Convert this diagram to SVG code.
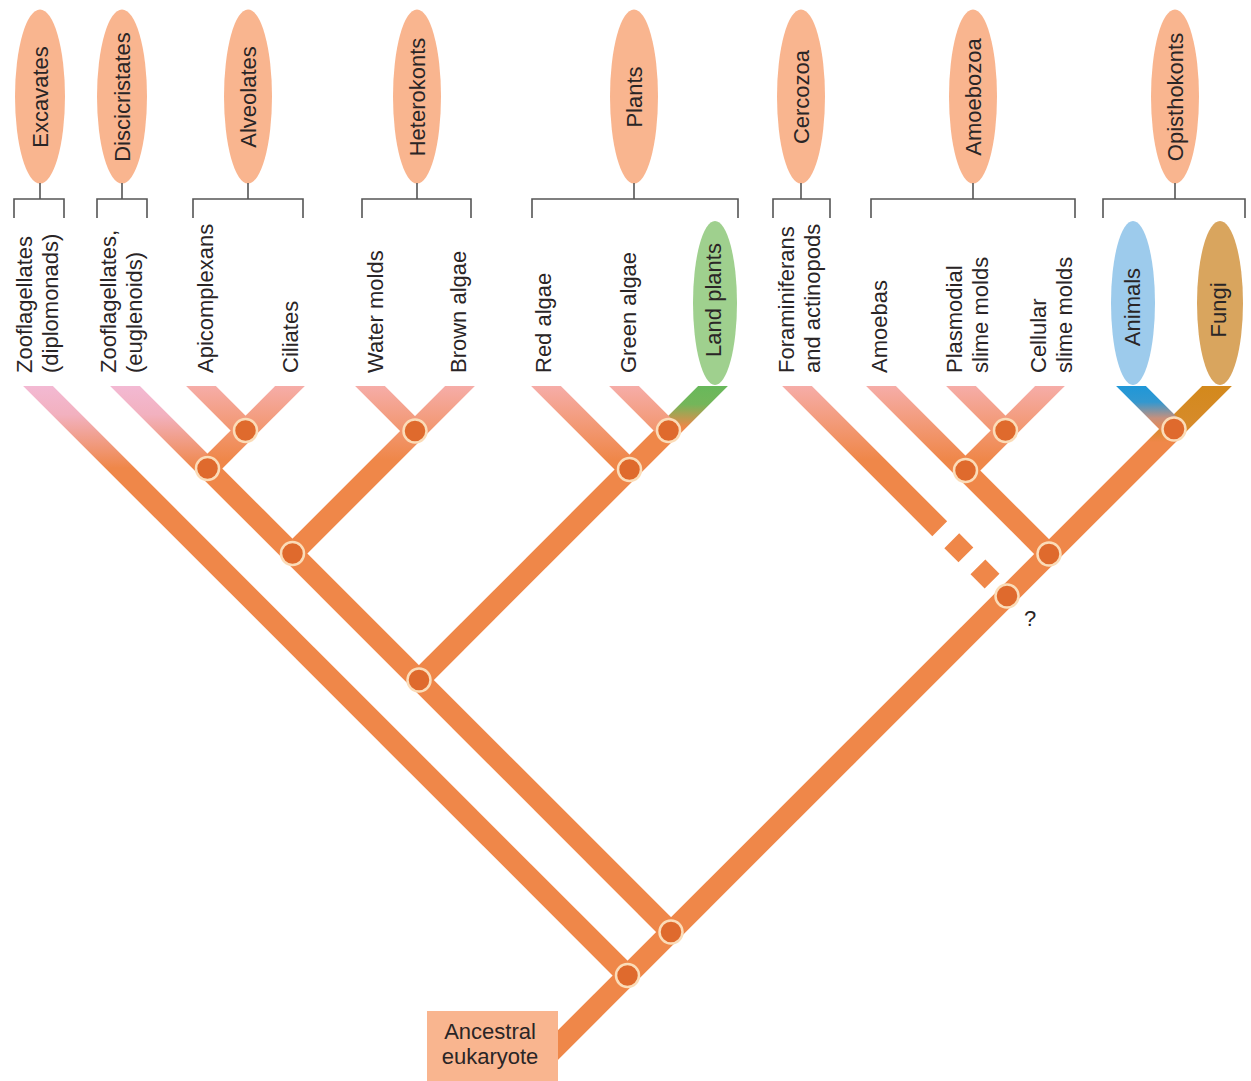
<svg xmlns="http://www.w3.org/2000/svg" width="1251" height="1081" viewBox="0 0 1251 1081">
<style>
.grp{fill:#f9b58f}
.lbl{font-family:"Liberation Sans",Arial,sans-serif;font-size:22px;fill:#2a2526}
.brk{fill:none;stroke:#555;stroke-width:1.6}
.br{fill:none;stroke-width:21;stroke-linecap:butt}
.nd{fill:#df6a2d;stroke:#fbdcb8;stroke-width:2.5}
</style>
<defs>
<clipPath id="tipclip"><rect x="0" y="386" width="1251" height="695"/></clipPath>
<linearGradient id="gLilac" gradientUnits="userSpaceOnUse" x1="0" y1="386" x2="0" y2="468">
<stop offset="0" stop-color="#f3b9d3"/><stop offset="0.35" stop-color="#f2b1bf"/><stop offset="1" stop-color="#ef8749"/>
</linearGradient>
<linearGradient id="gSalmon" gradientUnits="userSpaceOnUse" x1="0" y1="386" x2="0" y2="460">
<stop offset="0" stop-color="#f6ada8"/><stop offset="1" stop-color="#ef8749"/>
</linearGradient>
<linearGradient id="gGreen" gradientUnits="userSpaceOnUse" x1="0" y1="386" x2="0" y2="432">
<stop offset="0" stop-color="#68b85b"/><stop offset="0.4" stop-color="#74b65a"/><stop offset="0.9" stop-color="#ef8749"/>
</linearGradient>
<linearGradient id="gBlue" gradientUnits="userSpaceOnUse" x1="0" y1="386" x2="0" y2="432">
<stop offset="0" stop-color="#1f97d8"/><stop offset="0.35" stop-color="#3398d0"/><stop offset="0.7" stop-color="#c7907c"/><stop offset="1" stop-color="#ef8749"/>
</linearGradient>
<linearGradient id="gFungi" gradientUnits="userSpaceOnUse" x1="0" y1="386" x2="0" y2="442">
<stop offset="0" stop-color="#d3891c"/><stop offset="0.75" stop-color="#d78b2c"/><stop offset="1" stop-color="#ef8749"/>
</linearGradient>
</defs>
<rect width="1251" height="1081" fill="#fff"/>

<!-- group ellipses -->
<g id="excavates"><ellipse class="grp" cx="40" cy="96.5" rx="25" ry="87"/><text class="lbl" transform="translate(48,97) rotate(-90)" text-anchor="middle">Excavates</text><path class="brk" d="M40,183V199M14,218V199H64V218"/></g>
<g id="discicristates"><ellipse class="grp" cx="122" cy="96.5" rx="25" ry="87"/><text class="lbl" transform="translate(130,97) rotate(-90)" text-anchor="middle">Discicristates</text><path class="brk" d="M122,183V199M97,218V199H147V218"/></g>
<g id="alveolates"><ellipse class="grp" cx="248" cy="96.5" rx="24" ry="87"/><text class="lbl" transform="translate(256,97) rotate(-90)" text-anchor="middle">Alveolates</text><path class="brk" d="M248,183V199M193,218V199H303V218"/></g>
<g id="heterokonts"><ellipse class="grp" cx="417" cy="96.5" rx="24" ry="87"/><text class="lbl" transform="translate(425,97) rotate(-90)" text-anchor="middle">Heterokonts</text><path class="brk" d="M417,183V199M362,218V199H471V218"/></g>
<g id="plants"><ellipse class="grp" cx="634" cy="96.5" rx="24" ry="87"/><text class="lbl" transform="translate(642,97) rotate(-90)" text-anchor="middle">Plants</text><path class="brk" d="M634,183V199M532,218V199H738V218"/></g>
<g id="cercozoa"><ellipse class="grp" cx="801" cy="96.5" rx="24" ry="87"/><text class="lbl" transform="translate(809,97) rotate(-90)" text-anchor="middle">Cercozoa</text><path class="brk" d="M801,183V199M773,218V199H830V218"/></g>
<g id="amoebozoa"><ellipse class="grp" cx="973" cy="96.5" rx="24" ry="87"/><text class="lbl" transform="translate(981,97) rotate(-90)" text-anchor="middle">Amoebozoa</text><path class="brk" d="M973,183V199M871,218V199H1075V218"/></g>
<g id="opisthokonts"><ellipse class="grp" cx="1175" cy="96.5" rx="24" ry="87"/><text class="lbl" transform="translate(1183,97) rotate(-90)" text-anchor="middle">Opisthokonts</text><path class="brk" d="M1175,183V199M1103,218V199H1245V218"/></g>

<!-- leaf labels -->
<g id="diplomonads"><text class="lbl" transform="translate(32,373) rotate(-90)">Zooflagellates</text><text class="lbl" transform="translate(58,373) rotate(-90)">(diplomonads)</text></g>
<g id="euglenoids"><text class="lbl" transform="translate(116,373) rotate(-90)">Zooflagellates,</text><text class="lbl" transform="translate(142,373) rotate(-90)">(euglenoids)</text></g>
<g id="apicomplexans"><text class="lbl" transform="translate(213,373) rotate(-90)">Apicomplexans</text></g>
<g id="ciliates"><text class="lbl" transform="translate(298,373) rotate(-90)">Ciliates</text></g>
<g id="watermolds"><text class="lbl" transform="translate(383,373) rotate(-90)">Water molds</text></g>
<g id="brownalgae"><text class="lbl" transform="translate(466,373) rotate(-90)">Brown algae</text></g>
<g id="redalgae"><text class="lbl" transform="translate(551,373) rotate(-90)">Red algae</text></g>
<g id="greenalgae"><text class="lbl" transform="translate(636,373) rotate(-90)">Green algae</text></g>
<g id="landplants"><ellipse cx="715" cy="303" rx="22" ry="82" fill="#9fd08e"/><text class="lbl" transform="translate(721,300) rotate(-90)" text-anchor="middle">Land plants</text></g>
<g id="foraminiferans"><text class="lbl" transform="translate(794,373) rotate(-90)">Foraminiferans</text><text class="lbl" transform="translate(820,373) rotate(-90)">and actinopods</text></g>
<g id="amoebas"><text class="lbl" transform="translate(887,373) rotate(-90)">Amoebas</text></g>
<g id="plasmodial"><text class="lbl" transform="translate(962,373) rotate(-90)">Plasmodial</text><text class="lbl" transform="translate(988,373) rotate(-90)">slime molds</text></g>
<g id="cellular"><text class="lbl" transform="translate(1046,373) rotate(-90)">Cellular</text><text class="lbl" transform="translate(1072,373) rotate(-90)">slime molds</text></g>
<g id="animals"><ellipse cx="1133" cy="303" rx="22" ry="82" fill="#9dcbec"/><text class="lbl" transform="translate(1140,307) rotate(-90)" text-anchor="middle">Animals</text></g>
<g id="fungi"><ellipse cx="1220" cy="303" rx="23" ry="82" fill="#d9a55e"/><text class="lbl" transform="translate(1226,310) rotate(-90)" text-anchor="middle">Fungi</text></g>

<!-- connectors (branches) -->
<g id="connectors" clip-path="url(#tipclip)">
<line class="br" stroke="url(#gFungi)" x1="548" y1="1055" x2="1227" y2="376"/>
<line class="br" stroke="url(#gLilac)" x1="627.5" y1="975.5" x2="28" y2="376"/>
<line class="br" stroke="url(#gLilac)" x1="671" y1="932" x2="115" y2="376"/>
<line class="br" stroke="url(#gSalmon)" x1="207.5" y1="468.5" x2="300" y2="376"/>
<line class="br" stroke="url(#gSalmon)" x1="245.5" y1="430.5" x2="191" y2="376"/>
<line class="br" stroke="url(#gSalmon)" x1="292.5" y1="553.5" x2="470" y2="376"/>
<line class="br" stroke="url(#gSalmon)" x1="415" y1="431" x2="360" y2="376"/>
<line class="br" stroke="url(#gGreen)" x1="419" y1="680" x2="723" y2="376"/>
<line class="br" stroke="url(#gSalmon)" x1="629.5" y1="469.5" x2="536" y2="376"/>
<line class="br" stroke="url(#gSalmon)" x1="668.5" y1="430.5" x2="614" y2="376"/>
<line class="br" stroke="url(#gSalmon)" stroke-dasharray="216 17 20 17 20 200" x1="787" y1="376" x2="1007" y2="596"/>
<line class="br" stroke="url(#gSalmon)" x1="1049" y1="554" x2="871" y2="376"/>
<line class="br" stroke="url(#gSalmon)" x1="965.5" y1="470.5" x2="1060" y2="376"/>
<line class="br" stroke="url(#gSalmon)" x1="1005.5" y1="430.5" x2="951" y2="376"/>
<line class="br" stroke="url(#gBlue)" x1="1174" y1="429" x2="1121" y2="376"/>
</g>

<!-- branch nodes -->
<g id="nodes">
<circle class="nd" cx="627.5" cy="975.5" r="11.5"/>
<circle class="nd" cx="671" cy="932" r="11.5"/>
<circle class="nd" cx="419" cy="680" r="11.5"/>
<circle class="nd" cx="292.5" cy="553.5" r="11.5"/>
<circle class="nd" cx="207.5" cy="468.5" r="11.5"/>
<circle class="nd" cx="245.5" cy="430.5" r="11.5"/>
<circle class="nd" cx="415" cy="431" r="11.5"/>
<circle class="nd" cx="629.5" cy="469.5" r="11.5"/>
<circle class="nd" cx="668.5" cy="430.5" r="11.5"/>
<circle class="nd" cx="1007" cy="596" r="11.5"/>
<circle class="nd" cx="1049" cy="554" r="11.5"/>
<circle class="nd" cx="965.5" cy="470.5" r="11.5"/>
<circle class="nd" cx="1005.5" cy="430.5" r="11.5"/>
<circle class="nd" cx="1174" cy="429" r="11.5"/>
</g>
<text class="lbl" x="1030" y="626" text-anchor="middle">?</text>

<g id="ancestral"><rect x="427" y="1011" width="131" height="70" fill="#f9b58f"/><text class="lbl" x="490" y="1039" text-anchor="middle">Ancestral</text><text class="lbl" x="490" y="1064" text-anchor="middle">eukaryote</text></g>
</svg>
